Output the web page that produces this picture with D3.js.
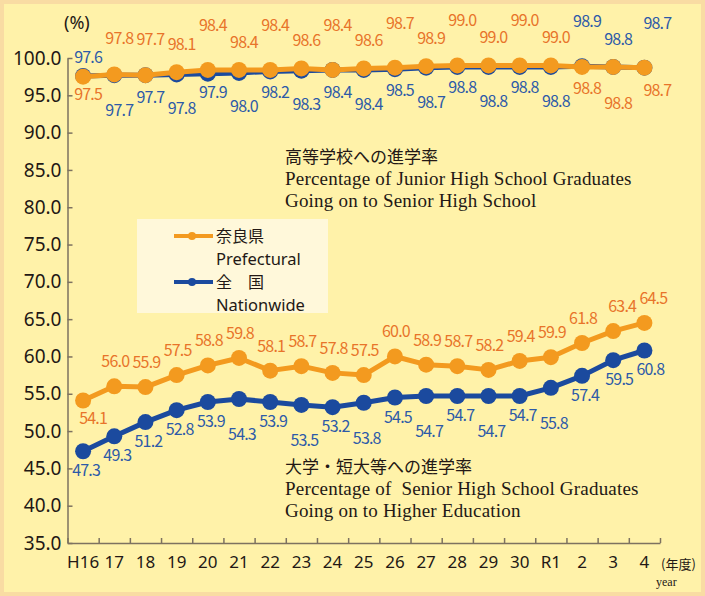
<!DOCTYPE html>
<html>
<head>
<meta charset="utf-8">
<script src="https://cdn.jsdelivr.net/npm/d3@7"></script>
<style>
  body { margin: 0; background: #fff; }
  text { font-family: "Noto Sans CJK JP", "Noto Sans", sans-serif; }
  .serif { font-family: "Liberation Serif", "DejaVu Serif", serif; white-space: pre; }
</style>
</head>
<body>
<svg id="chart" width="705" height="596"></svg>
<script>
// data
var years = ['H16', '17', '18', '19', '20', '21', '22', '23', '24', '25', '26', '27', '28', '29', '30', 'R1', '2', '3', '4'];
var hsPref   = [97.5, 97.8, 97.7, 98.1, 98.4, 98.4, 98.4, 98.6, 98.4, 98.6, 98.7, 98.9, 99.0, 99.0, 99.0, 99.0, 98.8, 98.8, 98.7];
var hsNation = [97.6, 97.7, 97.7, 97.8, 97.9, 98.0, 98.2, 98.3, 98.4, 98.4, 98.5, 98.7, 98.8, 98.8, 98.8, 98.8, 98.9, 98.8, 98.7];
var uniPref   = [54.1, 56.0, 55.9, 57.5, 58.8, 59.8, 58.1, 58.7, 57.8, 57.5, 60.0, 58.9, 58.7, 58.2, 59.4, 59.9, 61.8, 63.4, 64.5];
var uniNation = [47.3, 49.3, 51.2, 52.8, 53.9, 54.3, 53.9, 53.5, 53.2, 53.8, 54.5, 54.7, 54.7, 54.7, 54.7, 55.8, 57.4, 59.5, 60.8];
var yTicks = [35, 40, 45, 50, 55, 60, 65, 70, 75, 80, 85, 90, 95, 100];

var colours = {
  orange: '#F39A1F',
  orangeText: '#E8742A',
  blue: '#1B4A9E',
  blueText: '#2D5AA8',
  bg: '#FFF2A9',
  border: '#F9DCA3',
  ink: '#231815',
  axis: '#7D7260'
};

var svg = d3.select('#chart');

// background + frame
svg.append('rect').attr('width', 705).attr('height', 596).attr('fill', colours.border);
svg.append('rect').attr('x', 4).attr('y', 4).attr('width', 697).attr('height', 588).attr('fill', colours.bg);

var x = d3.scaleBand().domain(years).range([67.5, 660]).padding(0);
var y = d3.scaleLinear().domain([35, 100]).range([543, 58]);
var cx = function(i) { return x(years[i]) + x.bandwidth() / 2; };

// y axis
var yAxis = svg.append('g')
  .attr('transform', 'translate(67.5,0)')
  .call(d3.axisLeft(y).tickValues(yTicks).tickFormat(d3.format('.1f'))
    .tickSizeInner(-5).tickSizeOuter(0).tickPadding(6));
yAxis.selectAll('text').attr('font-size', '19px').attr('fill', colours.ink)
  .style('font-family', '"Noto Sans", sans-serif');

// x axis: ticks on the category boundaries, labels in the middle
var xb = d3.scaleLinear().domain([0, years.length]).range(x.range());
svg.append('g')
  .attr('transform', 'translate(0,543)')
  .call(d3.axisBottom(xb).ticks(years.length).tickFormat('').tickSizeInner(-5).tickSizeOuter(0));
var xAxis = svg.append('g')
  .attr('transform', 'translate(0,543)')
  .call(d3.axisBottom(x).tickSize(0).tickPadding(13));
xAxis.select('.domain').remove();
xAxis.selectAll('text').attr('font-size', '17px').attr('fill', colours.ink)
  .style('font-family', '"Noto Sans", sans-serif');

svg.selectAll('.domain, .tick line').attr('stroke', colours.axis).attr('stroke-width', 1.5);

svg.append('text').attr('x', 64).attr('y', 29).attr('font-size', '18px')
  .attr('fill', colours.ink).style('font-family', '"Noto Sans", sans-serif').text('(%)');
svg.append('text').attr('x', 661).attr('y', 569).attr('font-size', '13px')
  .attr('fill', colours.ink).text('(年度)');
svg.append('text').attr('class', 'serif').attr('x', 656).attr('y', 586).attr('font-size', '12px')
  .attr('fill', colours.ink).text('year');

var line = d3.line().x(function(d, i) { return cx(i); }).y(function(d) { return y(d); });

function drawSeries(values, colour) {
  svg.append('path').datum(values)
    .attr('fill', 'none').attr('stroke', colour).attr('stroke-width', 5)
    .attr('stroke-linejoin', 'round').attr('d', line);
  svg.append('g').selectAll('circle').data(values).enter().append('circle')
    .attr('cx', function(d, i) { return cx(i); })
    .attr('cy', function(d) { return y(d); })
    .attr('r', 8).attr('fill', colour);
}

drawSeries(hsNation, colours.blue);
drawSeries(hsPref, colours.orange);
drawSeries(uniNation, colours.blue);
drawSeries(uniPref, colours.orange);

function label(xp, yp, v, colour) {
  svg.append('text').attr('x', xp).attr('y', yp).attr('text-anchor', 'middle')
    .attr('font-size', '16px').attr('letter-spacing', '-0.8px')
    .attr('fill', colour).text(v.toFixed(1));
}

// high school labels: the higher series above the line, the other below, staggered
hsPref.forEach(function(p, i) {
  var n = hsNation[i];
  var blueTop = n > p || (n === p && i > 15);
  var topV = blueTop ? n : p, botV = blueTop ? p : n;
  var topC = blueTop ? colours.blueText : colours.orangeText;
  var botC = blueTop ? colours.orangeText : colours.blueText;
  var base = y(Math.max(p, n));
  var dTop, dBot;
  if (i === 0) { dTop = -13; dBot = 24; }
  else {
    dTop = i < 3 ? -30 : (i % 2 ? -22 : -39);
    dBot = i % 2 ? 42 : 28;
  }
  var dx = i === years.length - 1 ? 13 : 5;
  label(cx(i) + dx, base + dTop, topV, topC);
  label(cx(i) + dx, base + dBot, botV, botC);
});

// university labels
uniPref.forEach(function(p, i) {
  if (i === 0) label(cx(i) + 10, y(p) + 24, p, colours.orangeText);
  else label(cx(i) + (i > 16 ? 9 : 1), y(p) - 19, p, colours.orangeText);
});
uniNation.forEach(function(n, i) {
  var d = (i % 2 && i >= 4 && i < 16) ? 41 : 25;
  label(cx(i) + (i > 16 ? 6 : 3), y(n) + d, n, colours.blueText);
});

// legend
var lg = svg.append('g');
lg.append('rect').attr('x', 137).attr('y', 219).attr('width', 191).attr('height', 94)
  .attr('fill', '#FFF8DA');
var legendItems = [
  { jp: '奈良県', en: 'Prefectural', colour: colours.orange },
  { jp: '全　国', en: 'Nationwide', colour: colours.blue }
];
legendItems.forEach(function(it, k) {
  var ly = 236 + k * 46;
  lg.append('line').attr('x1', 174).attr('x2', 213).attr('y1', ly).attr('y2', ly)
    .attr('stroke', it.colour).attr('stroke-width', 4);
  lg.append('circle').attr('cx', 192).attr('cy', ly).attr('r', 4).attr('fill', it.colour);
  lg.append('text').attr('x', 216).attr('y', ly + 6).attr('font-size', '16px')
    .attr('fill', colours.ink).text(it.jp);
  lg.append('text').attr('x', 216).attr('y', ly + 29).attr('font-size', '16.5px')
    .attr('fill', colours.ink).style('font-family', '"Noto Sans", sans-serif').text(it.en);
});

// annotations
function note(yp, jp, en1, en2) {
  svg.append('text').attr('x', 285).attr('y', yp).attr('font-size', '17px')
    .attr('fill', colours.ink).text(jp);
  svg.append('text').attr('class', 'serif').attr('x', 285).attr('y', yp + 22)
    .attr('font-size', '19px').attr('letter-spacing', '0.2px').attr('fill', colours.ink).text(en1);
  svg.append('text').attr('class', 'serif').attr('x', 285).attr('y', yp + 44)
    .attr('font-size', '19px').attr('letter-spacing', '0.2px').attr('fill', colours.ink).text(en2);
}
note(163, '高等学校への進学率', 'Percentage of Junior High School Graduates', 'Going on to Senior High School');
note(473, '大学・短大等への進学率', 'Percentage of  Senior High School Graduates', 'Going on to Higher Education');
</script>
</body>
</html>
